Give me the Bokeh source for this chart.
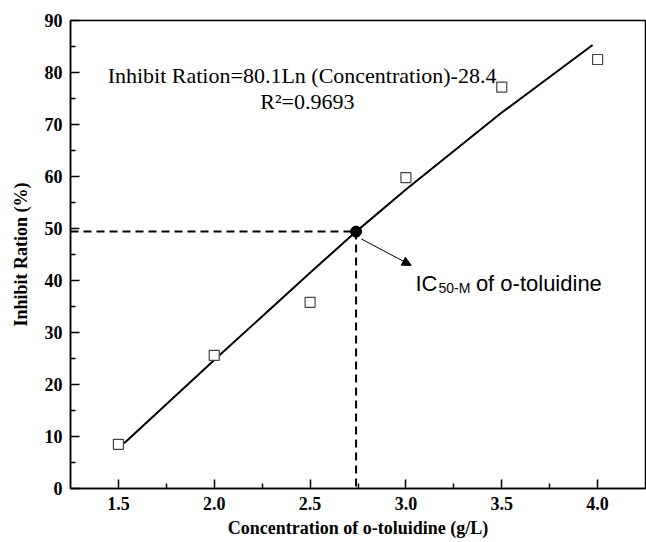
from bokeh.plotting import figure
from bokeh.models import Range1d, FixedTicker, Arrow, NormalHead
from bokeh.core.properties import value
from bokeh.embed import file_html
from bokeh.resources import INLINE

# Measured data (squares)
conc = [1.5, 2.0, 2.5, 3.0, 3.5, 4.0]
inhibit = [8.5, 25.6, 35.8, 59.8, 77.2, 82.5]

# Fitted curve
fit_x = [1.53, 2.0, 2.5, 2.74, 3.0, 3.5, 3.974]
fit_y = [8.7, 24.7, 41.5, 49.4, 57.5, 72.3, 85.3]

# IC50 point
ic50_x = [2.74]
ic50_y = [49.4]

x_ticks = [1.5, 2.0, 2.5, 3.0, 3.5, 4.0]
x_minor = [1.75, 2.25, 2.75, 3.25, 3.75]
y_ticks = [0, 10, 20, 30, 40, 50, 60, 70, 80, 90]
y_minor = [5, 15, 25, 35, 45, 55, 65, 75, 85]

SERIF = "Liberation Serif"
SANS = "Liberation Sans"

p = figure(width=646, height=542, x_range=Range1d(1.25, 4.25), y_range=Range1d(0, 90),
           output_backend="svg", toolbar_location=None,
           min_border_left=70, min_border_right=1, min_border_top=20, min_border_bottom=54)
p.background_fill_color = "white"
p.border_fill_color = "white"
p.outline_line_color = "black"
p.outline_line_width = 1.5
p.xgrid.visible = False
p.ygrid.visible = False

for ax, ticks, minor in ((p.xaxis[0], x_ticks, x_minor), (p.yaxis[0], y_ticks, y_minor)):
    ax.ticker = FixedTicker(ticks=ticks, minor_ticks=minor)
    ax.axis_line_color = "black"
    ax.axis_line_width = 1.5
    ax.major_tick_in = 9
    ax.major_tick_out = 0
    ax.minor_tick_in = 5
    ax.minor_tick_out = 0
    ax.major_tick_line_width = 1.5
    ax.minor_tick_line_width = 1.5
    ax.major_tick_line_color = "black"
    ax.minor_tick_line_color = "black"
    ax.major_label_text_font = SERIF
    ax.major_label_text_font_style = "bold"
    ax.major_label_text_font_size = "18px"
    ax.major_label_text_color = "black"
    ax.axis_label_text_font = SERIF
    ax.axis_label_text_font_style = "bold"
    ax.axis_label_text_font_size = "18px"
    ax.axis_label_text_color = "black"

p.xaxis[0].major_label_overrides = {t: f"{t:.1f}" for t in x_ticks}
p.xaxis.axis_label = "Concentration of o-toluidine (g/L)"
p.yaxis.axis_label = "Inhibit Ration (%)"
p.xaxis.major_label_standoff = 8
p.xaxis.axis_label_standoff = 5
p.yaxis.major_label_standoff = 8
p.yaxis.axis_label_standoff = 11

# dashed guide lines
p.line(x=[1.25, ic50_x[0]], y=[ic50_y[0], ic50_y[0]], line_color="black", line_width=2, line_dash="8 5")
p.line(x=[ic50_x[0], ic50_x[0]], y=[ic50_y[0], 0], line_color="black", line_width=2, line_dash="8 5")

# fit curve
p.line(x=fit_x, y=fit_y, line_color="black", line_width=2)

# data squares
p.scatter(x=conc, y=inhibit, marker="square", size=10, fill_color="white",
          line_color="#444444", line_width=1.2)

# IC50 dot
p.scatter(x=ic50_x, y=ic50_y, marker="circle", size=11, fill_color="black", line_color="black")

# arrow
p.add_layout(Arrow(end=NormalHead(size=9, fill_color="black", line_color="black"),
                   x_start=2.767, y_start=48.0, x_end=3.028, y_end=42.9,
                   line_color="black", line_width=1))

# equation text
p.text(x=[2.458], y=[79.4], text=["Inhibit Ration=80.1Ln (Concentration)-28.4"],
       text_font=value(SERIF), text_font_size="22px", text_align="center",
       text_baseline="middle", text_color="black")
p.text(x=[2.486], y=[74.4], text=["R²=0.9693"],
       text_font=value(SERIF), text_font_size="22px", text_align="center",
       text_baseline="middle", text_color="black")

# IC50 label
p.text(x=[3.05], y=[39.4], text=["IC"], text_font=value(SANS), text_font_size="22px",
       text_align="left", text_baseline="alphabetic", text_color="black")
p.text(x=[3.17], y=[38.6], text=["50-M"], text_font=value(SANS), text_font_size="14px",
       text_align="left", text_baseline="alphabetic", text_color="black")
p.text(x=[3.365], y=[39.4], text=["of o-toluidine"], text_font=value(SANS), text_font_size="22px",
       text_align="left", text_baseline="alphabetic", text_color="black")

open("out.html", "w").write(file_html(p, INLINE))
